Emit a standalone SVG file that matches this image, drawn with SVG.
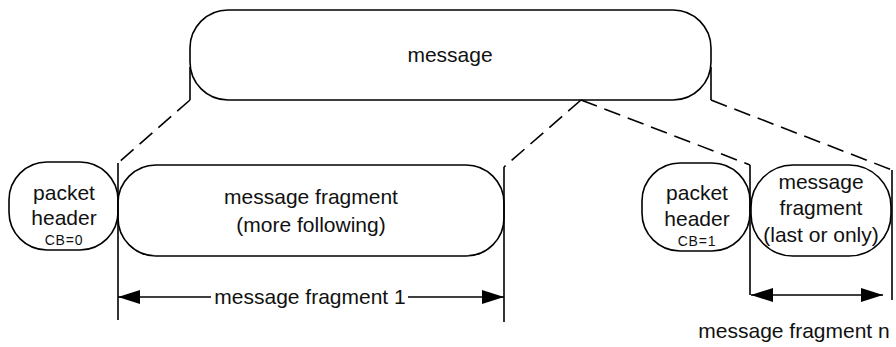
<svg xmlns="http://www.w3.org/2000/svg" width="896" height="347" viewBox="0 0 896 347">
  <style>
    .box { fill: #ffffff; stroke: #000000; stroke-width: 1.6; }
    .lbl { font-family: "Liberation Sans", Arial, sans-serif; font-size: 21px; fill: #111111; text-anchor: middle; }
    .small { font-family: "Liberation Sans", Arial, sans-serif; font-size: 14px; fill: #111111; text-anchor: middle; letter-spacing: 0.8px; }
    .solid { fill: none; stroke: #000000; stroke-width: 1.6; }
    .dashed { fill: none; stroke: #000000; stroke-width: 1.6; stroke-dasharray: 17 8; }
    .dim { fill: none; stroke: #000000; stroke-width: 1.5; }
  </style>
  <defs>
    <marker id="arrow" viewBox="0 0 22 14" refX="22" refY="7" markerWidth="22" markerHeight="14" markerUnits="userSpaceOnUse" orient="auto-start-reverse">
      <path d="M0,0 L22,7 L0,14 z" fill="#000000"/>
    </marker>
  </defs>

  <rect width="896" height="347" fill="#ffffff"/>

  <!-- whole message -->
  <g id="message">
    <rect class="box" x="190" y="10" width="521" height="90" rx="38" ry="38"/>
    <text class="lbl" x="450" y="62">message</text>
  </g>

  <!-- first packet: header + fragment -->
  <g id="header1">
    <rect class="box" x="9" y="162" width="109" height="88" rx="38" ry="38"/>
    <text class="lbl" x="64" y="200">packet</text>
    <text class="lbl" x="64" y="225">header</text>
    <text class="small" x="64" y="245">CB=0</text>
  </g>
  <g id="fragment1">
    <rect class="box" x="118" y="165" width="386" height="91" rx="38" ry="38"/>
    <text class="lbl" x="311" y="204">message fragment</text>
    <text class="lbl" x="311" y="232">(more following)</text>
  </g>

  <!-- last packet: header + fragment -->
  <g id="header2">
    <rect class="box" x="642" y="163" width="108" height="88" rx="38" ry="38"/>
    <text class="lbl" x="697" y="200">packet</text>
    <text class="lbl" x="697" y="226">header</text>
    <text class="small" x="697" y="246">CB=1</text>
  </g>
  <g id="fragmentn">
    <rect class="box" x="751" y="165" width="140" height="91" rx="42" ry="42"/>
    <text class="lbl" x="821" y="189">message</text>
    <text class="lbl" x="821" y="215">fragment</text>
    <text class="lbl" x="821" y="242">(last or only)</text>
  </g>

  <!-- connectors: projection lines and dimension arrows -->
  <g id="connectors">
    <!-- projections from the message onto the fragments -->
    <line class="solid" x1="190" y1="67" x2="190" y2="100"/>
    <line class="dashed" x1="190" y1="100" x2="118" y2="163"/>
    <line class="dashed" x1="581" y1="100" x2="504" y2="167"/>
    <line class="dashed" x1="581" y1="100" x2="750" y2="165"/>
    <line class="solid" x1="711" y1="67" x2="711" y2="100"/>
    <line class="dashed" x1="711" y1="100" x2="892" y2="170"/>

    <!-- boundary lines -->
    <line class="solid" x1="118" y1="163" x2="118" y2="320"/>
    <line class="solid" x1="504" y1="167" x2="504" y2="322"/>
    <line class="solid" x1="750" y1="165" x2="750" y2="295"/>
    <line class="solid" x1="892" y1="170" x2="892" y2="300"/>

    <!-- fragment 1 extent -->
    <line class="dim" x1="211" y1="297" x2="118" y2="297" marker-end="url(#arrow)"/>
    <line class="dim" x1="408" y1="297" x2="504" y2="297" marker-end="url(#arrow)"/>
    <text class="lbl" x="310" y="304">message fragment 1</text>

    <!-- fragment n extent -->
    <line class="dim" x1="751" y1="295" x2="883" y2="295" marker-start="url(#arrow)" marker-end="url(#arrow)"/>
    <text class="lbl" x="794" y="338">message fragment n</text>
  </g>
</svg>
